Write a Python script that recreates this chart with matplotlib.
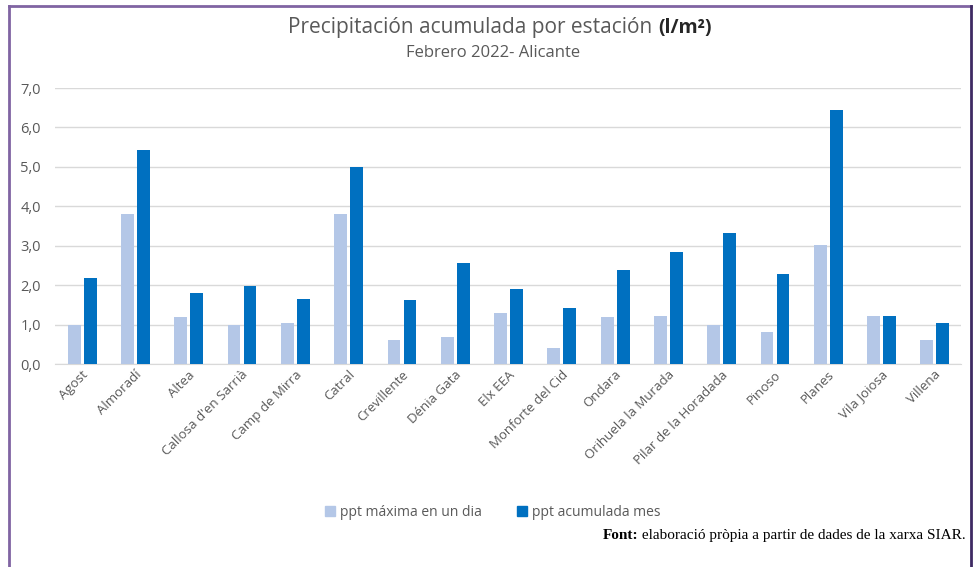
import matplotlib.pyplot as plt
import numpy as np
from matplotlib.lines import Line2D
from matplotlib.patches import Patch

# Data (l/m2)
stations = ["Agost", "Almoradí", "Altea", "Callosa d'en Sarrià", "Camp de Mirra",
            "Catral", "Crevillente", "Dénia Gata", "Elx EEA", "Monforte del Cid",
            "Ondara", "Orihuela la Murada", "Pilar de la Horadada", "Pinoso",
            "Planes", "Vila Joiosa", "Villena"]
ppt_max_dia = [1.0, 3.8, 1.2, 1.0, 1.03, 3.8, 0.61, 0.68, 1.3, 0.41,
               1.2, 1.23, 1.0, 0.82, 3.01, 1.23, 0.61]
ppt_acum_mes = [2.19, 5.42, 1.81, 1.99, 1.65, 5.0, 1.63, 2.55, 1.9, 1.42,
                2.39, 2.84, 3.33, 2.28, 6.44, 1.23, 1.03]
y_ticks = [0, 1, 2, 3, 4, 5, 6, 7]

light = "#b4c7e7"
dark = "#0070c0"
grey_txt = "#595959"

plt.rcParams['font.family'] = ['Open Sans', 'DejaVu Sans']

fig = plt.figure(figsize=(9.74, 5.67), dpi=100)
ax = fig.add_axes([55 / 974, 1 - 364 / 567, 906 / 974, 276 / 567])

x = np.arange(len(stations))
w = 0.24
ax.bar(x - 0.14, ppt_max_dia, width=w, color=light, zorder=3)
ax.bar(x + 0.16, ppt_acum_mes, width=w, color=dark, zorder=3)

ax.set_xlim(-0.5, len(stations) - 0.5)
ax.set_ylim(0, 7)
ax.set_yticks(y_ticks)
ax.set_yticklabels([f"{v:.1f}".replace(".", ",") for v in y_ticks],
                   color=grey_txt, fontsize=10.5)
ax.yaxis.grid(True, color="#d9d9d9", linewidth=1, zorder=0)
ax.tick_params(axis="y", length=0, pad=10)
ax.tick_params(axis="x", length=0, pad=3)
ax.set_xticks(x)
ax.set_xticklabels(stations, rotation=45, ha="right", rotation_mode="anchor",
                   color=grey_txt, fontsize=9.5)
for s in ["top", "right", "left"]:
    ax.spines[s].set_visible(False)
ax.spines["bottom"].set_color("#d9d9d9")

# title: regular part + bold units, placed side by side on the same baseline
title_y = 1 - 33 / 567
t1 = fig.text(658 / 974, title_y, "Precipitación acumulada por estación ",
              ha="right", va="baseline", fontsize=15, color=grey_txt)
fig.text(493 / 974, 1 - 53 / 567, "Febrero 2022- Alicante", ha="center",
         va="center", fontsize=12, color=grey_txt)

handles = [Patch(color=light, label="ppt máxima en un dia"),
           Patch(color=dark, label="ppt acumulada mes")]
fig.legend(handles=handles, loc="center", bbox_to_anchor=(493 / 974, 1 - 512 / 567),
           ncol=2, frameon=False, fontsize=10, labelcolor=grey_txt,
           handlelength=0.7, handleheight=0.7, handletextpad=0.4, columnspacing=2.5)

# footer in serif: bold "Font:" then the rest
foot_y = 1 - 539 / 567
f2 = fig.text(966 / 974, foot_y, " elaboració pròpia a partir de dades de la xarxa SIAR.",
              ha="right", va="baseline", fontsize=11, family="Liberation Serif")

fig.canvas.draw()
rend = fig.canvas.get_renderer()
bb1 = t1.get_window_extent(rend)
fig.text(bb1.x1 / fig.bbox.width, title_y, "(l/m²)", ha="left", va="baseline",
         fontsize=14, fontweight="bold", color="#262626")
bb2 = f2.get_window_extent(rend)
fig.text(bb2.x0 / fig.bbox.width, foot_y, "Font:", ha="right", va="baseline",
         fontsize=11, fontweight="bold", family="Liberation Serif")

# purple frame
fig.add_artist(Line2D([8.5 / 974, 8.5 / 974], [0, 1 - 6 / 567], color="#8064a2", lw=2))
fig.add_artist(Line2D([8.5 / 974, 971 / 974], [1 - 6 / 567, 1 - 6 / 567], color="#8064a2", lw=2))
fig.add_artist(Line2D([971 / 974, 971 / 974], [0, 1 - 6 / 567], color="#3f2a63", lw=2))

fig.savefig("out.png", dpi=100)
